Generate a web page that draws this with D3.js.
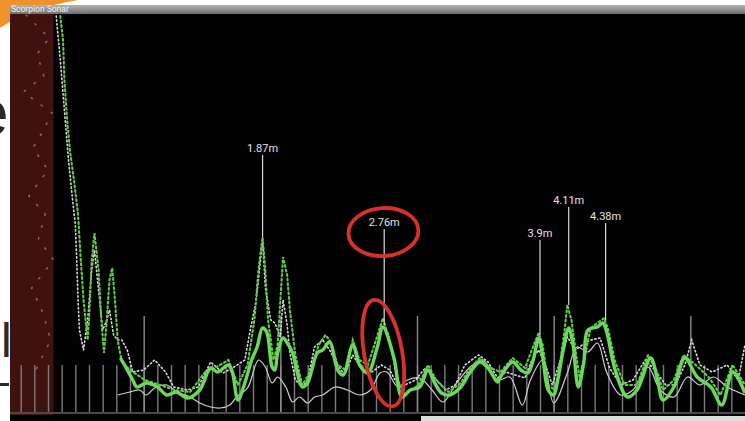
<!DOCTYPE html>
<html>
<head>
<meta charset="utf-8">
<script src="https://cdn.jsdelivr.net/npm/d3@7"></script>
<style>
html,body{margin:0;padding:0;background:#fff;overflow:hidden;}
svg{display:block;}
</style>
</head>
<body>
<svg id="chart" width="745" height="421"></svg>
<script>
// ---------------- DATA (depth in metres, echo strength in arbitrary units) ----------------
const appTitle = "Scorpion Sonar";

// solid green trace (current ping)
const greenDepth = [0.83,0.86,0.92,0.95,1.02,1.10,1.17,1.24,1.32,1.41,1.49,1.54,1.62,1.65,1.69,1.74,1.79,1.83,1.87,1.90,1.94,1.96,1.98,2.02,2.06,2.09,2.12,2.16,2.20,2.23,2.27,2.31,2.36,2.42,2.46,2.53,2.58,2.64,2.71,2.75,2.83,2.89,2.95,3.02,3.08,3.13,3.18,3.24,3.32,3.39,3.46,3.52,3.59,3.61,3.70,3.76,3.81,3.85,3.89,3.92,3.96,4.00,4.03,4.07,4.11,4.14,4.18,4.22,4.25,4.32,4.36,4.39,4.45,4.54,4.61,4.71,4.76,4.80,4.88,4.96,5.05,5.15,5.23,5.31,5.40];
const greenValue = [52,45,30,23,27,23,15,18,12,20,42,38,45,37,10,27,50,63,82,78,43,40,57,72,65,57,40,23,27,40,57,60,68,40,35,65,45,37,63,83,53,13,20,23,40,27,17,15,23,38,48,42,28,33,48,40,37,50,72,53,20,15,30,60,82,67,23,47,80,83,87,77,40,13,20,52,30,10,23,52,33,23,5,38,17];

// green dotted echo history
const greenDotDepth = [0.39,0.41,0.42,0.44,0.46,0.49,0.52,0.54,0.56,0.59,0.60,0.62,0.64,0.67,0.69,0.71,0.73,0.75,0.77,0.79,0.81,0.84,0.90,1.01,1.12,1.23,1.34,1.45,1.52,1.62,1.69,1.76,1.81,1.84,1.87,1.89,1.91,1.95,1.98,2.02,2.05,2.07,2.11,2.16,2.22,2.28,2.33,2.36,2.42,2.48,2.53,2.58,2.64,2.70,2.75,2.80,2.86,2.91,3.01,3.08,3.14,3.23,3.32,3.39,3.46,3.54,3.61,3.70,3.79,3.84,3.89,3.92,3.96,4.01,4.05,4.08,4.10,4.13,4.16,4.19,4.23,4.27,4.33,4.37,4.40,4.45,4.52,4.61,4.69,4.75,4.80,4.88,4.95,5.04,5.14,5.22,5.31,5.40];
const greenDotValue = [394,370,330,290,260,230,195,150,110,70,90,150,177,140,90,57,90,130,142,110,70,48,40,30,25,20,18,38,42,50,25,45,90,140,173,140,90,50,65,153,135,100,55,25,38,65,75,70,45,40,70,50,45,70,92,70,30,15,25,45,30,18,27,42,52,42,38,52,42,60,77,65,25,20,50,80,105,90,60,32,55,82,88,92,80,48,25,25,55,40,20,30,55,45,32,15,45,25];

// white dotted echo history
const whiteDotDepth = [0.36,0.39,0.42,0.45,0.48,0.50,0.51,0.52,0.53,0.56,0.59,0.62,0.64,0.67,0.70,0.73,0.75,0.78,0.81,0.84,0.88,0.92,1.00,1.08,1.16,1.22,1.32,1.40,1.49,1.58,1.65,1.74,1.78,1.82,1.84,1.87,1.89,1.93,1.96,2.00,2.02,2.05,2.07,2.11,2.16,2.20,2.25,2.31,2.36,2.42,2.47,2.53,2.60,2.67,2.74,2.80,2.86,2.91,2.99,3.06,3.13,3.21,3.28,3.35,3.45,3.52,3.59,3.65,3.72,3.79,3.84,3.89,3.94,3.99,4.05,4.10,4.16,4.21,4.27,4.34,4.41,4.49,4.58,4.67,4.74,4.82,4.89,4.96,5.01,5.07,5.16,5.27,5.35,5.40];
const whiteDotValue = [394,350,300,250,210,185,150,110,80,60,90,140,160,120,80,90,100,75,70,70,60,38,40,50,38,23,20,23,48,37,42,50,80,107,130,170,123,90,87,73,110,85,57,30,23,30,63,70,60,45,35,55,40,38,45,40,25,25,30,42,32,20,25,45,55,48,32,38,35,32,50,60,45,25,50,73,60,65,70,72,42,25,30,50,40,25,25,45,70,45,38,45,30,65];

// thin white trace
const whiteDepth = [0.81,0.90,0.97,1.02,1.08,1.17,1.24,1.34,1.41,1.49,1.56,1.63,1.68,1.76,1.84,1.89,1.94,1.98,2.04,2.09,2.14,2.20,2.25,2.31,2.40,2.49,2.58,2.66,2.73,2.78,2.86,2.93,3.02,3.11,3.19,3.29,3.39,3.48,3.59,3.68,3.77,3.83,3.92,4.00,4.10,4.17,4.25,4.32,4.39,4.49,4.58,4.69,4.78,4.88,4.98,5.07,5.17,5.27,5.40];
const whiteValue = [15,18,20,15,22,25,18,13,7,3,2,5,13,22,50,43,27,33,23,8,13,7,13,15,23,20,15,20,37,38,23,30,32,20,8,27,43,50,30,33,5,30,50,7,37,63,58,67,37,15,20,43,20,13,33,25,33,23,15];

// near-field clutter inside the blanking zone
const nearDepth = [0.14,0.31,0.22,0.27,0.12,0.33,0.25,0.19,0.30,0.16,0.28,0.23,0.34,0.18,0.26,0.32,0.21];
const nearValue = [395,372,356,334,318,297,276,262,240,214,196,171,150,122,98,70,40];

// peak markers
const peakLabels = ["1.87m","2.76m","3.9m","4.11m","4.38m"];
const peakDepth  = [1.87,2.76,3.9,4.11,4.38];
const peakValue  = [173,85,75,105,90];
const labelValue = [255,181,170,203,187];

// range scale ticks (metres)
const blankZone = 0.34;
const minorTicks = [0.1,0.2,0.3,0.4,0.5,0.6,0.7,0.8,0.9,1.0,1.1,1.2,1.3,1.4,1.5,1.6,1.7,1.8,1.9,2.0,2.1,2.2,2.3,2.4,2.5,2.6,2.7,2.8,2.9,3.0,3.1,3.2,3.3,3.4,3.5,3.6,3.7,3.8,3.9,4.0,4.1,4.2,4.3,4.4,4.5,4.6,4.7,4.8,4.9,5.0,5.1,5.2,5.3];
const majorTicks = [1,2,3,4,5];

// ---------------- DRAWING ----------------
const svg = d3.select("#chart");
const W = 745, H = 421;

// slide background fragments
svg.append("rect").attr("width",W).attr("height",H).attr("fill","#ffffff");
svg.append("path").attr("d","M0,0 L78,0 Q30,8 0,28 Z").attr("fill","#f0922c");
svg.append("text").attr("x",-27).attr("y",135).attr("font-family","Liberation Sans, Arial").attr("font-size",64).attr("fill","#2a2a2a").text("e");
svg.append("text").attr("x",1).attr("y",357).attr("font-family","Liberation Sans, Arial").attr("font-size",48).attr("fill","#2a2a2a").text("l");
svg.append("rect").attr("x",0).attr("y",383).attr("width",9).attr("height",3).attr("fill","#2a2a2a");

// app screen
const x = d3.scaleLinear().domain([0,5.4]).range([7,745]);
const y = d3.scaleLinear().domain([0,396]).range([410,14]);

const defs = svg.append("defs");
const grad = defs.append("linearGradient").attr("id","bar").attr("x1",0).attr("y1",0).attr("x2",0).attr("y2",1);
grad.append("stop").attr("offset","0%").attr("stop-color","#b4b4b4");
grad.append("stop").attr("offset","100%").attr("stop-color","#6e6e6e");
defs.append("clipPath").attr("id","plot").append("rect").attr("x",10).attr("y",14).attr("width",735).attr("height",400);
defs.append("filter").attr("id","soft").append("feGaussianBlur").attr("stdDeviation",0.45);

svg.append("rect").attr("x",10).attr("y",5).attr("width",735).attr("height",9).attr("fill","url(#bar)");
svg.append("text").attr("x",11).attr("y",11.5).attr("font-family","Roboto, sans-serif").attr("font-size",8.5)
   .attr("fill","#f2f2f2").text(appTitle);
svg.append("rect").attr("x",10).attr("y",14).attr("width",735).attr("height",407).attr("fill","#020202");

// blanking zone
svg.append("rect").attr("x",10).attr("y",14).attr("width",x(blankZone)-10).attr("height",401).attr("fill","#3f120f");

const g = svg.append("g").attr("clip-path","url(#plot)");

// range ticks
function tickAxis(vals,size,color){
  const ax = g.append("g").attr("transform","translate(0,413)")
    .call(d3.axisBottom(x).tickValues(vals).tickSize(-size).tickFormat(""));
  ax.select(".domain").remove();
  ax.selectAll(".tick line").attr("stroke",color).attr("stroke-width",1.4);
}
tickAxis(minorTicks,48,"#7c7c7c");
tickAxis(majorTicks,97,"#8c8c8c");

const line = d3.line().x(d=>x(d[0])).y(d=>y(d[1]));
const smooth = d3.line().x(d=>x(d[0])).y(d=>y(d[1])).curve(d3.curveCatmullRom.alpha(0.5));
const zip = (a,b)=>a.map((v,i)=>[v,b[i]]);

const traces = g.append("g").attr("filter","url(#soft)");

// near-field clutter
traces.append("path").datum(zip(nearDepth,nearValue)).attr("d",line).attr("fill","none")
 .attr("stroke","#b7807a").attr("stroke-width",1.6).attr("stroke-dasharray","1.4,11").attr("stroke-linecap","round").attr("opacity",0.7);

// thin white trace
traces.append("path").datum(zip(whiteDepth,whiteValue)).attr("d",smooth).attr("fill","none")
 .attr("stroke","#cfcfd4").attr("stroke-width",1.2);

// white dotted
traces.append("path").datum(zip(whiteDotDepth,whiteDotValue)).attr("d",line).attr("fill","none")
 .attr("stroke","#ddd6e2").attr("stroke-width",1.6).attr("stroke-dasharray","1.3,2.6").attr("stroke-linecap","round");

// green dotted
traces.append("path").datum(zip(greenDotDepth,greenDotValue)).attr("d",line).attr("fill","none")
 .attr("stroke","#62c94c").attr("stroke-width",2.1).attr("stroke-dasharray","1.8,2.8").attr("stroke-linecap","round");

// solid green trace
traces.append("path").datum(zip(greenDepth,greenValue)).attr("d",smooth).attr("fill","none")
 .attr("stroke","#6ad85a").attr("stroke-width",3.4).attr("stroke-linejoin","round");

// peak markers
const pk = g.selectAll("g.peak").data(peakLabels).join("g").attr("class","peak");
pk.append("line")
  .attr("x1",(d,i)=>x(peakDepth[i])).attr("x2",(d,i)=>x(peakDepth[i]))
  .attr("y1",(d,i)=>y(labelValue[i])).attr("y2",(d,i)=>y(peakValue[i]))
  .attr("stroke","#d8d8d8").attr("stroke-width",1.2);
pk.append("text")
  .attr("x",(d,i)=>x(peakDepth[i])).attr("y",(d,i)=>y(labelValue[i])-3)
  .attr("text-anchor","middle").attr("font-family","Roboto, sans-serif").attr("font-size",11)
  .attr("fill","#e2e2e2").text(d=>d);

// hand-drawn annotation circles around the 2.76 m marker
const ai = peakLabels.indexOf("2.76m");
svg.append("ellipse").attr("cx",x(peakDepth[ai])-1).attr("cy",y(labelValue[ai])+3)
  .attr("rx",35).attr("ry",24).attr("transform",`rotate(-4,${x(peakDepth[ai])},${y(labelValue[ai])})`)
  .attr("fill","none").attr("stroke","#d8312b").attr("stroke-width",3.8);
svg.append("ellipse").attr("cx",x(peakDepth[ai])-1).attr("cy",y(peakValue[ai])+28)
  .attr("rx",19).attr("ry",54).attr("transform",`rotate(-10,${x(peakDepth[ai])},${y(peakValue[ai])+28})`)
  .attr("fill","none").attr("stroke","#d8312b").attr("stroke-width",3.8);

// bottom edge of the screen
svg.append("rect").attr("x",10).attr("y",412).attr("width",735).attr("height",2).attr("fill","#4a4a4a");
svg.append("rect").attr("x",421).attr("y",416).attr("width",324).attr("height",5).attr("fill","#dcdcdc");
</script>
</body>
</html>
